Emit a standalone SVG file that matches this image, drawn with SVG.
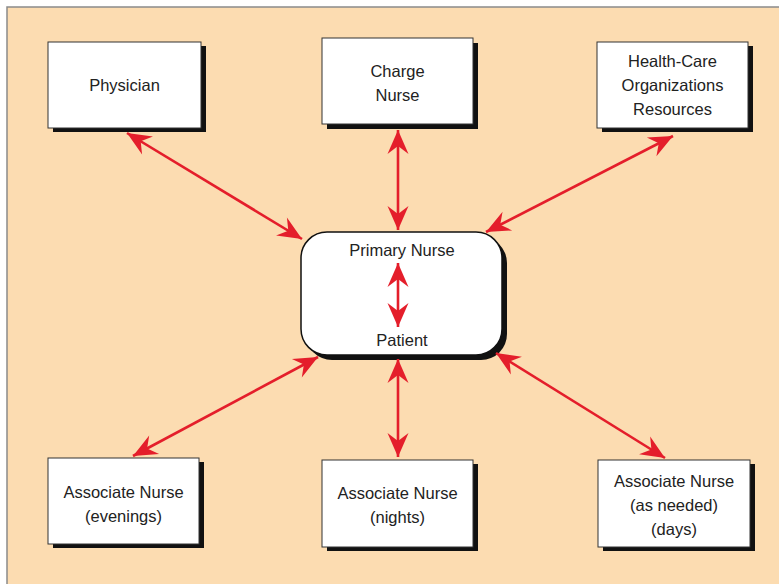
<svg xmlns="http://www.w3.org/2000/svg" width="779" height="584" viewBox="0 0 779 584">
<defs>
<style>
.bg{fill:#fcdcb1;stroke:#8a8a8a;stroke-width:1.5}
.box{fill:#ffffff;stroke:#333;stroke-width:1}
.sh{fill:#111}
.t{font-family:"Liberation Sans",Arial,sans-serif;font-size:16.5px;fill:#222;text-anchor:middle}
.c{stroke:#e41e2b;stroke-width:2.6;fill:none;marker-start:url(#ah);marker-end:url(#ah)}
</style>
<marker id="ah" viewBox="-26 -11 28 22" refX="0" refY="0" markerWidth="28" markerHeight="22" markerUnits="userSpaceOnUse" orient="auto-start-reverse">
<path d="M0,0 L-24,-10.5 L-16,0 L-24,10.5 Z" fill="#e41e2b"/>
</marker>
</defs>
<rect x="0" y="0" width="779" height="584" fill="#ffffff"/>
<rect class="bg" x="7" y="7" width="790" height="600"/>

<g id="physician">
<rect class="sh" x="53" y="46" width="153" height="86"/>
<rect class="box" x="48" y="42" width="153" height="86"/>
<text class="t" x="124.5" y="91">Physician</text>
</g>

<g id="charge-nurse">
<rect class="sh" x="327" y="43" width="151" height="86"/>
<rect class="box" x="322" y="38" width="151" height="86"/>
<text class="t" x="397.5" y="77">Charge</text>
<text class="t" x="397.5" y="101">Nurse</text>
</g>

<g id="health-care">
<rect class="sh" x="602" y="46" width="151" height="86"/>
<rect class="box" x="597" y="42" width="151" height="86"/>
<text class="t" x="672.5" y="67">Health-Care</text>
<text class="t" x="672.5" y="91">Organizations</text>
<text class="t" x="672.5" y="115">Resources</text>
</g>

<g id="primary-nurse">
<rect class="sh" x="306" y="237" width="201" height="123" rx="26" ry="26"/>
<rect class="box" x="301" y="232" width="201" height="123" rx="26" ry="26" style="stroke:#111;stroke-width:1.5"/>
<text class="t" x="402" y="256">Primary Nurse</text>
<text class="t" x="402" y="346">Patient</text>
</g>

<g id="associate-evenings">
<rect class="sh" x="53" y="462" width="151" height="86"/>
<rect class="box" x="48" y="458" width="151" height="86"/>
<text class="t" x="123.5" y="498">Associate Nurse</text>
<text class="t" x="123.5" y="522">(evenings)</text>
</g>

<g id="associate-nights">
<rect class="sh" x="327" y="464" width="151" height="87"/>
<rect class="box" x="322" y="460" width="151" height="87"/>
<text class="t" x="397.5" y="499">Associate Nurse</text>
<text class="t" x="397.5" y="523">(nights)</text>
</g>

<g id="associate-as-needed">
<rect class="sh" x="603" y="464" width="152" height="87"/>
<rect class="box" x="598" y="460" width="152" height="87"/>
<text class="t" x="674" y="487">Associate Nurse</text>
<text class="t" x="674" y="511">(as needed)</text>
<text class="t" x="674" y="535">(days)</text>
</g>

<g id="connectors">
<line class="c" x1="127" y1="133" x2="302" y2="239"/>
<line class="c" x1="398" y1="130" x2="398" y2="230"/>
<line class="c" x1="673" y1="136" x2="486" y2="232"/>
<line class="c" x1="318" y1="357" x2="133" y2="456"/>
<line class="c" x1="398" y1="359" x2="398" y2="457"/>
<line class="c" x1="496" y1="353" x2="665" y2="458"/>
<line class="c" x1="398" y1="263" x2="398" y2="327"/>
</g>
</svg>
